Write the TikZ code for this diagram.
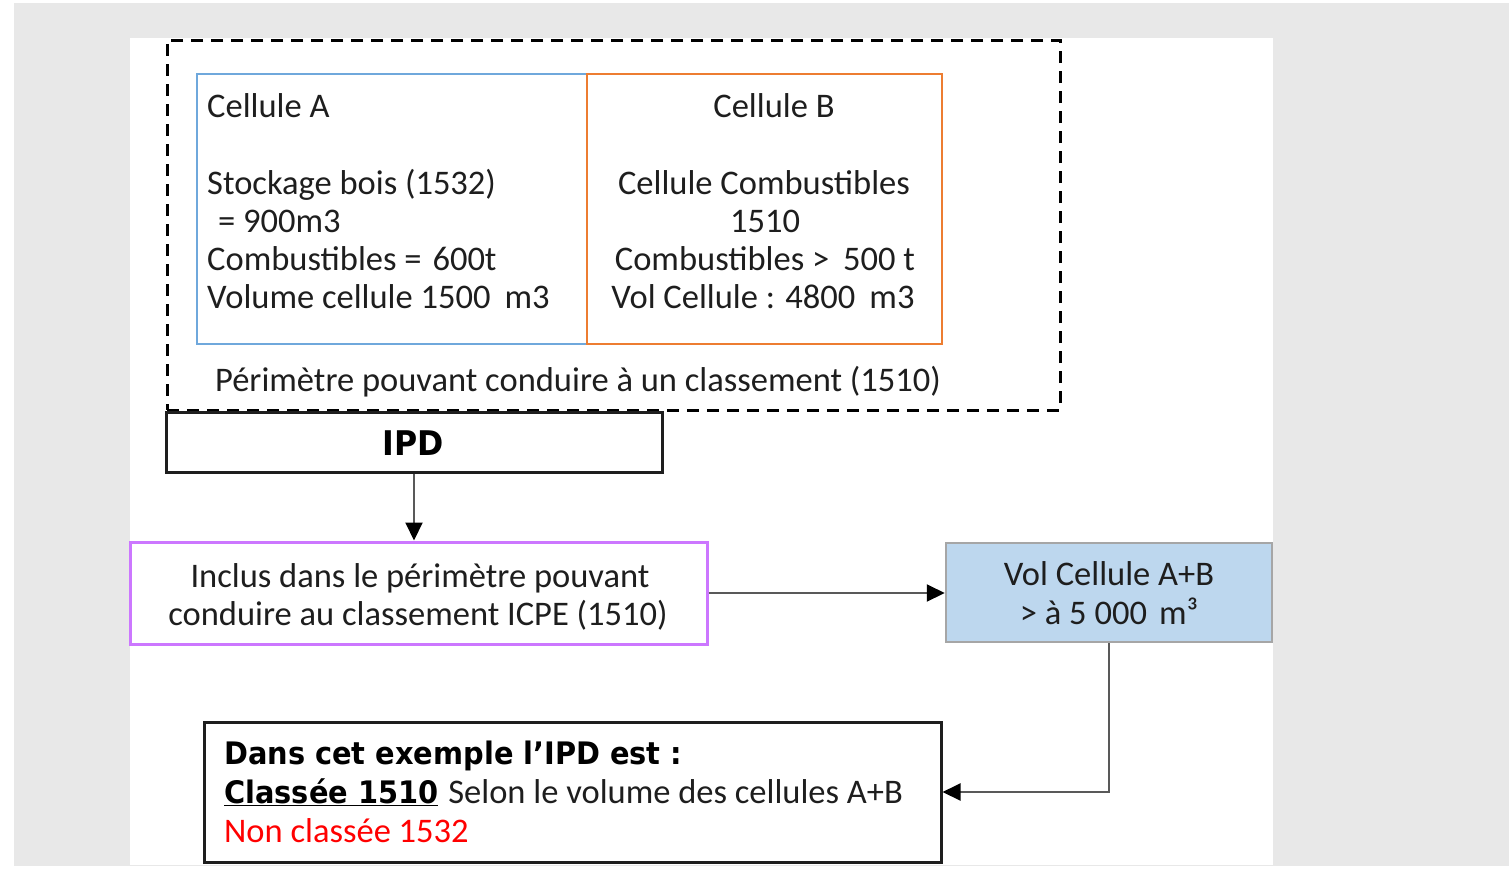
\documentclass[tikz,border=0pt]{standalone}
\usepackage{fontspec}
\setmainfont{Carlito}
\newfontfamily\boldf[FakeStretch=0.93]{DejaVu Sans}
\usetikzlibrary{arrows.meta}
\definecolor{bggrey}{HTML}{E8E8E8}
\definecolor{txtcol}{HTML}{1E1E1E}
\definecolor{cellblue}{HTML}{6FA8DC}
\definecolor{cellorange}{HTML}{ED7D31}
\definecolor{violetc}{HTML}{CC77FF}
\definecolor{lightblue}{HTML}{BDD7EE}
\definecolor{boxgrey}{HTML}{A6A6A6}
\definecolor{linegrey}{HTML}{595959}
\tikzset{
  txt/.style={inner sep=0pt, font=\fontsize{34.5}{38}\selectfont, text=txtcol},
  btxt/.style={inner sep=0pt, font=\boldf\bfseries\fontsize{31}{38}\selectfont, text=black},
  perimbox/.style={draw=black, line width=3pt, dash pattern=on 12pt off 8pt, inner sep=0pt},
  cellbox/.style={line width=2.5pt, inner sep=0pt},
  blackbox/.style={draw=txtcol, line width=3pt, fill=white, inner sep=0pt},
  conn/.style={draw=linegrey, line width=2pt, -{Triangle[length=18pt,width=17pt,color=black,fill=black]}},
}
\begin{document}
\begin{tikzpicture}[x=1pt,y=-1pt]
\useasboundingbox (0,0) rectangle (1509,870);
\fill[white] (0,0) rectangle (1509,870);
\fill[bggrey] (14,3) rectangle (1509,866);
\fill[white] (130,38) rectangle (1273,865);

% perimeter dashed box
\node[perimbox, minimum width=893pt, minimum height=370pt] (perim) at (613.5,225) {};

% cells
\node[cellbox, draw=cellblue, minimum width=390pt, minimum height=270pt] (cellA) at (392,209) {};
\node[cellbox, draw=cellorange, minimum width=355pt, minimum height=270pt] (cellB) at (764.5,209) {};

% Cellule A text
\node[txt, anchor=base west] (a1) at (207,117) {Cellule A};
\node[txt, anchor=base west] (a2) at (207,194) {Stockage bois (1532)};
\node[txt, anchor=base west] (a3) at (218,232) {= 900m3};
\node[txt, anchor=base west] (a4) at (207,270) {Combustibles =\hspace{11pt}600t};
\node[txt, anchor=base west] (a5) at (207,308) {Volume cellule 1500\hspace{14pt}m3};

% Cellule B text
\node[txt, anchor=base] (b1) at (774,117) {Cellule B};
\node[txt, anchor=base] (b2) at (764,194) {Cellule Combustibles};
\node[txt, anchor=base] (b3) at (765,232) {1510};
\node[txt, anchor=base] (b4) at (765,270) {Combustibles >\hspace{14pt}500 t};
\node[txt, anchor=base] (b5) at (763,308) {Vol Cellule : 4800\hspace{14pt}m3};

\node[txt, anchor=base] (perimtxt) at (578,391) {Périmètre pouvant conduire à un classement (1510)};

% IPD
\node[blackbox, minimum width=496pt, minimum height=60pt] (ipd) at (414,442) {};
\node[btxt, font=\boldf\bfseries\fontsize{34}{38}\selectfont, anchor=base] (ipdtxt) at (413,455) {IPD};

% purple box
\node[draw=violetc, line width=3pt, fill=white, inner sep=0pt, minimum width=577pt, minimum height=102pt] (incl) at (418.5,593) {};
\node[txt, anchor=base] (i1) at (420,587) {Inclus dans le périmètre pouvant};
\node[txt, anchor=base] (i2) at (418,625) {conduire au classement ICPE (1510)};

% blue box
\node[draw=boxgrey, fill=lightblue, line width=2.5pt, inner sep=0pt, minimum width=326pt, minimum height=99pt] (vol) at (1109,592.5) {};
\node[txt, anchor=base] (v1) at (1109,585) {Vol Cellule A+B};
\node[txt, anchor=base] (v2) at (1109,624) {> à 5 000\hspace{12pt}m³};

% bottom box
\node[blackbox, minimum width=737pt, minimum height=140pt] (res) at (572.5,792) {};
\node[btxt, anchor=base west] (r1) at (224,764) {Dans cet exemple l’IPD est :};
\node[anchor=base west, inner sep=0pt] (r2) at (224,803) {{\boldf\bfseries\fontsize{31}{38}\selectfont\underline{Classée 1510}}\hspace{10pt}{\fontsize{34.5}{38}\selectfont\color{txtcol}Selon le volume des cellules A+B}};
\node[txt, anchor=base west, text=red] (r3) at (224,842) {Non classée 1532};

% connectors
\draw[conn] (ipd.south) -- (ipd.south |- incl.north);
\draw[conn] (incl.east) -- (incl.east -| vol.west);
\draw[conn] (vol.south) |- (res.east);
\end{tikzpicture}
\end{document}
